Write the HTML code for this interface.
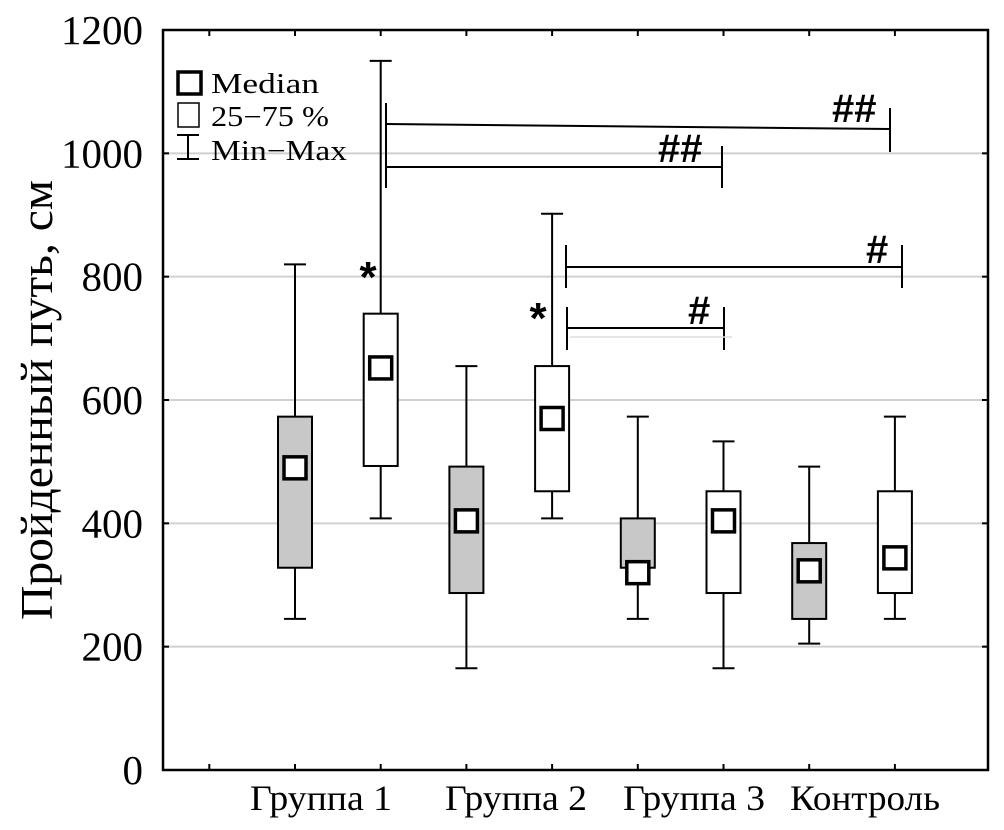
<!DOCTYPE html>
<html><head><meta charset="utf-8"><style>
html,body{margin:0;padding:0;background:#fff;}
svg{display:block;font-family:"Liberation Serif","DejaVu Serif",serif;}
</style></head><body>
<svg id="chart" width="1004" height="830" viewBox="0 0 1004 830"></svg>
<script>
const categories=["Группа 1a","Группа 1b","Группа 2a","Группа 2b","Группа 3a","Группа 3b","Контроль a","Контроль b"];
const mins=[245,408,165,408,245,165,205,245];
const q1s=[328,493,287,452,328,287,245,287];
const medians=[490,652,404,570,320,404,323,344];
const q3s=[573,740,492,655,408,452,368,452];
const maxs=[820,1150,655,902,573,533,492,573];
const shaded=[true,false,true,false,true,false,true,false];
const yTicks=[0,200,400,600,800,1000,1200];
const groupLabels=["Группа 1","Группа 2","Группа 3","Контроль"];

const NS="http://www.w3.org/2000/svg";
const svg=document.getElementById('chart');
const L=163,R=988,T=30,B=770;
const y=v=>B-(v/1200)*(B-T);
const slotX=i=>295+i*85.7;
function el(tag,attrs,parent){const e=document.createElementNS(NS,tag);for(const k in attrs)e.setAttribute(k,attrs[k]);(parent||svg).appendChild(e);return e;}

yTicks.forEach(v=>{if(v>0&&v<1200){const g=el('line',{x1:L,x2:R,y1:y(v),y2:y(v),stroke:'#d0d0d0','stroke-width':2});

}});
const fr=el('rect',{x:L,y:T,width:R-L,height:B-T,fill:'none',stroke:'#000','stroke-width':2.5});


yTicks.forEach(v=>{
 el('line',{x1:L,x2:L+6,y1:y(v),y2:y(v),stroke:'#000','stroke-width':2});
 el('line',{x1:R-6,x2:R,y1:y(v),y2:y(v),stroke:'#000','stroke-width':2});
 const t=el('text',{x:143,y:y(v)+14,'text-anchor':'end','font-size':41});
 t.textContent=v;
 
 
});
for(let i=-1;i<8;i++){const x=slotX(i);
 el('line',{x1:x,x2:x,y1:B,y2:B-6,stroke:'#000','stroke-width':2});
 el('line',{x1:x,x2:x,y1:T,y2:T+6,stroke:'#000','stroke-width':2});}
const yt=el('text',{x:0,y:0,transform:'translate(52,400) rotate(-90)','text-anchor':'middle','font-size':46,textLength:440,lengthAdjust:'spacingAndGlyphs'});
yt.textContent='Пройденный путь, см';


const labelCenters=[321,516,694,865];
groupLabels.forEach((g,i)=>{
 const t=el('text',{x:labelCenters[i],y:810,'text-anchor':'middle','font-size':36,textLength:(i==3?150:142),lengthAdjust:'spacingAndGlyphs'});
 t.textContent=g;
 
 
});
categories.forEach((c,i)=>{
 const x=slotX(i),w=34;
 const g=el('g',{});
 
 
 el('line',{x1:x,x2:x,y1:y(maxs[i]),y2:y(q3s[i]),stroke:'#000','stroke-width':2},g);
 el('line',{x1:x,x2:x,y1:y(q1s[i]),y2:y(mins[i]),stroke:'#000','stroke-width':2},g);
 el('line',{x1:x-11,x2:x+11,y1:y(maxs[i]),y2:y(maxs[i]),stroke:'#000','stroke-width':2},g);
 el('line',{x1:x-11,x2:x+11,y1:y(mins[i]),y2:y(mins[i]),stroke:'#000','stroke-width':2},g);
 el('rect',{x:x-w/2,y:y(q3s[i]),width:w,height:y(q1s[i])-y(q3s[i]),fill:shaded[i]?'#c8c8c8':'#fff',stroke:'#000','stroke-width':2},g);
 el('rect',{x:x-11,y:y(medians[i])-11,width:22,height:22,fill:'#fff',stroke:'#000','stroke-width':3.5},g);
});
function bracket(x1,x2,ya,yb,ytop,ybot,label,lx,ly,name){
 const g=el('g',{});
 
 
 el('line',{x1:x1,x2:x1,y1:ytop,y2:ybot,stroke:'#000','stroke-width':2},g);
 el('line',{x1:x2,x2:x2,y1:ytop+(name=='sig-1'?5:0),y2:ybot-(name=='sig-1'?36:0),stroke:'#000','stroke-width':2},g);
 el('line',{x1:x1,x2:x2,y1:ya,y2:yb,stroke:'#000','stroke-width':2},g);
 const t=el('text',{x:lx,y:ly,'font-size':40,'font-weight':'bold','font-family':'"Liberation Sans",sans-serif'},g);
 t.textContent=label;
}
bracket(386,890,124,129,103,188,'##',832,122,'sig-1');
bracket(386,722,167,167,146,188,'##',658,162,'sig-2');
bracket(566,902,267,267,245,288,'#',866,263,'sig-3');
bracket(567,724,328,328,307,350,'#',688,324,'sig-4');
el('line',{x1:570,x2:732,y1:337,y2:337,stroke:'#ddd','stroke-width':1.5});
[[368,292],[538,333]].forEach((p,i)=>{const t=el('text',{x:p[0],y:p[1],'text-anchor':'middle','font-size':44,'font-weight':'bold','font-family':'"Liberation Sans",sans-serif'});t.textContent='*';

});
const lg=el('g',{});


el('rect',{x:178,y:72,width:23,height:22,fill:'#fff',stroke:'#000','stroke-width':3.5},lg);
el('rect',{x:178,y:103,width:21,height:24,fill:'#fff',stroke:'#000','stroke-width':1.5},lg);
el('line',{x1:188,x2:188,y1:135,y2:159,stroke:'#000','stroke-width':2},lg);
el('line',{x1:177,x2:199,y1:135,y2:135,stroke:'#000','stroke-width':2},lg);
el('line',{x1:177,x2:199,y1:159,y2:159,stroke:'#000','stroke-width':2},lg);
[['Median',93,108],['25−75 %',126,118],['Min−Max',160,136]].forEach((r,i)=>{const t=el('text',{x:211,y:r[1],'font-size':28,textLength:r[2],lengthAdjust:'spacingAndGlyphs'},lg);t.textContent=r[0];

});
</script>
</body></html>
